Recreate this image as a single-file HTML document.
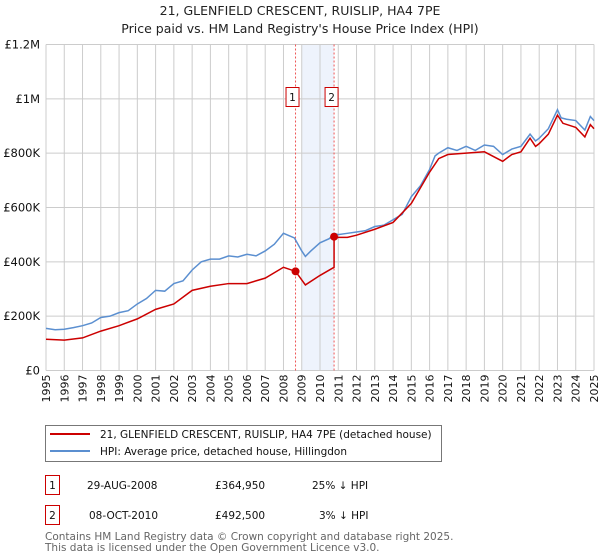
<!DOCTYPE html>
<html><head><meta charset="utf-8"><style>
body{margin:0;background:#fff;font-family:"DejaVu Sans","Liberation Sans",sans-serif;}
svg{display:block}
</style></head><body>
<svg id="chart" width="600" height="560" xmlns="http://www.w3.org/2000/svg" font-family="DejaVu Sans, Liberation Sans, sans-serif">
<text x="300" y="15" text-anchor="middle" font-size="12.5" fill="#222">21, GLENFIELD CRESCENT, RUISLIP, HA4 7PE</text>
<text x="300" y="33" text-anchor="middle" font-size="12.5" fill="#222">Price paid vs. HM Land Registry's House Price Index (HPI)</text>
<g id="grid"></g><g id="marks"></g><g id="axes"></g>
<rect x="45.5" y="425.5" width="396" height="36" fill="#fff" stroke="#777"/>
<line x1="50" y1="434" x2="90" y2="434" stroke="#cc0000" stroke-width="2"/>
<text x="100" y="438" font-size="10.5" fill="#111">21, GLENFIELD CRESCENT, RUISLIP, HA4 7PE (detached house)</text>
<line x1="50" y1="451" x2="90" y2="451" stroke="#5b8fd0" stroke-width="2"/>
<text x="100" y="455" font-size="10.5" fill="#111">HPI: Average price, detached house, Hillingdon</text>
<g font-size="10.5" fill="#111">
<rect x="45.5" y="475.5" width="14" height="19" fill="#fff" stroke="#cc0000"/>
<text x="52.5" y="489" text-anchor="middle">1</text>
<text x="87" y="489">29-AUG-2008</text><text x="215" y="489">£364,950</text><text x="312" y="489">25% ↓ HPI</text></g>
<g font-size="10.5" fill="#111">
<rect x="45.5" y="505.5" width="14" height="19" fill="#fff" stroke="#cc0000"/>
<text x="52.5" y="519" text-anchor="middle">2</text>
<text x="89" y="519">08-OCT-2010</text><text x="215" y="519">£492,500</text><text x="319" y="519">3% ↓ HPI</text></g>
<text x="45" y="540" font-size="10.5" fill="#666">Contains HM Land Registry data © Crown copyright and database right 2025.</text>
<text x="45" y="551" font-size="10.5" fill="#666">This data is licensed under the Open Government Licence v3.0.</text>
</svg>
<script>
const hpiYears=[1995,1995.5,1996,1996.5,1997,1997.5,1998,1998.5,1999,1999.5,2000,2000.5,2001,2001.5,2002,2002.5,2003,2003.5,2004,2004.5,2005,2005.5,2006,2006.5,2007,2007.5,2008,2008.6,2009,2009.2,2009.5,2010,2010.5,2010.8,2011,2011.5,2012,2012.5,2013,2013.5,2014,2014.5,2015,2015.5,2016,2016.3,2016.5,2017,2017.5,2018,2018.5,2019,2019.5,2020,2020.5,2021,2021.5,2021.8,2022,2022.5,2023,2023.2,2023.5,2024,2024.5,2024.8,2025];
const hpiValues=[155,150,152,158,165,175,195,200,213,220,245,265,295,292,320,330,370,400,410,410,422,418,428,422,440,465,505,488,440,420,440,470,485,505,500,505,510,515,530,535,555,575,640,680,740,790,800,820,810,825,810,830,825,795,815,825,870,845,855,890,960,930,925,920,885,935,920];
const priceYears=[1995,1996,1997,1998,1999,2000,2001,2002,2003,2004,2005,2006,2007,2008,2008.66,2009.2,2010,2010.77,2010.77,2011,2011.5,2012,2013,2014,2015,2016,2016.5,2017,2018,2019,2020,2020.5,2021,2021.5,2021.8,2022,2022.5,2023,2023.3,2024,2024.5,2024.8,2025];
const priceValues=[115,112,120,145,165,190,225,245,295,310,320,320,340,380,365,315,350,380,492.5,490,490,498,520,545,615,730,780,795,800,805,770,795,805,855,825,835,870,940,910,895,860,905,890];
const saleYears=[2008.66,2010.77];
const saleValues=[364.95,492.5];
const yTicks=[0,200,400,600,800,1000,1200];
const yTickLabels=["£0","£200K","£400K","£600K","£800K","£1M","£1.2M"];
const xTicks=[1995,1996,1997,1998,1999,2000,2001,2002,2003,2004,2005,2006,2007,2008,2009,2010,2011,2012,2013,2014,2015,2016,2017,2018,2019,2020,2021,2022,2023,2024,2025];

const NS="http://www.w3.org/2000/svg";
const X0=46,X1=594,Y0=370.5,Y1=44.5;
const xs=y=>X0+(y-1995)/30*(X1-X0);
const ys=v=>Y0-v/1200*(Y0-Y1);
function mk(p,t,a){const e=document.createElementNS(NS,t);for(const k in a)e.setAttribute(k,a[k]);p.appendChild(e);return e;}
const grid=document.getElementById('grid'),marks=document.getElementById('marks'),axes=document.getElementById('axes');
const sh=mk(grid,'rect',{x:xs(2009),y:Y1,width:xs(saleYears[1])-xs(2009),height:Y0-Y1,fill:'#eef3fc'});


xTicks.forEach(t=>{
 const l=mk(grid,'line',{x1:xs(t),x2:xs(t),y1:Y1,y2:Y0,stroke:'#ccc','stroke-width':1});
 
 
 const tx=mk(axes,'text',{x:0,y:0,'font-size':'11',fill:'#111','text-anchor':'end',transform:`translate(${xs(t)+4},${Y0+4}) rotate(-90)`});
 tx.textContent=t;
 
 
});
yTicks.forEach((t,i)=>{
 const l=mk(grid,'line',{x1:X0,x2:X1,y1:ys(t),y2:ys(t),stroke:'#ccc','stroke-width':1});
 
 
 const tx=mk(axes,'text',{x:40,y:ys(t)+4,'font-size':'11.5',fill:'#111','text-anchor':'end'});
 tx.textContent=yTickLabels[i];
 
 
});
saleYears.forEach((y,i)=>{
 const l=mk(grid,'line',{x1:xs(y),x2:xs(y),y1:Y1,y2:Y0,stroke:'#e55','stroke-width':1,'stroke-dasharray':'2,2'});
 
 
 const off=i?-9:-9.5;
 const b=mk(axes,'rect',{x:xs(y)+off,y:87.5,width:13,height:19,fill:'#fff',stroke:'#cc0000'});
 
 
 const t=mk(axes,'text',{x:xs(y)+off+6.5,y:101,'font-size':'10.5','text-anchor':'middle',fill:'#111'});
 t.textContent=String(i+1);
 
 
});
const hp=mk(marks,'polyline',{points:hpiYears.map((y,i)=>xs(y)+','+ys(hpiValues[i])).join(' '),fill:'none',stroke:'#5b8fd0','stroke-width':1.5});


const pp=mk(marks,'polyline',{points:priceYears.map((y,i)=>xs(y)+','+ys(priceValues[i])).join(' '),fill:'none',stroke:'#cc0000','stroke-width':1.5});


saleYears.forEach((y,i)=>{
 const c=mk(marks,'circle',{cx:xs(y),cy:ys(saleValues[i]),r:4,fill:'#cc0000'});
 
 
});
</script>
</body></html>
